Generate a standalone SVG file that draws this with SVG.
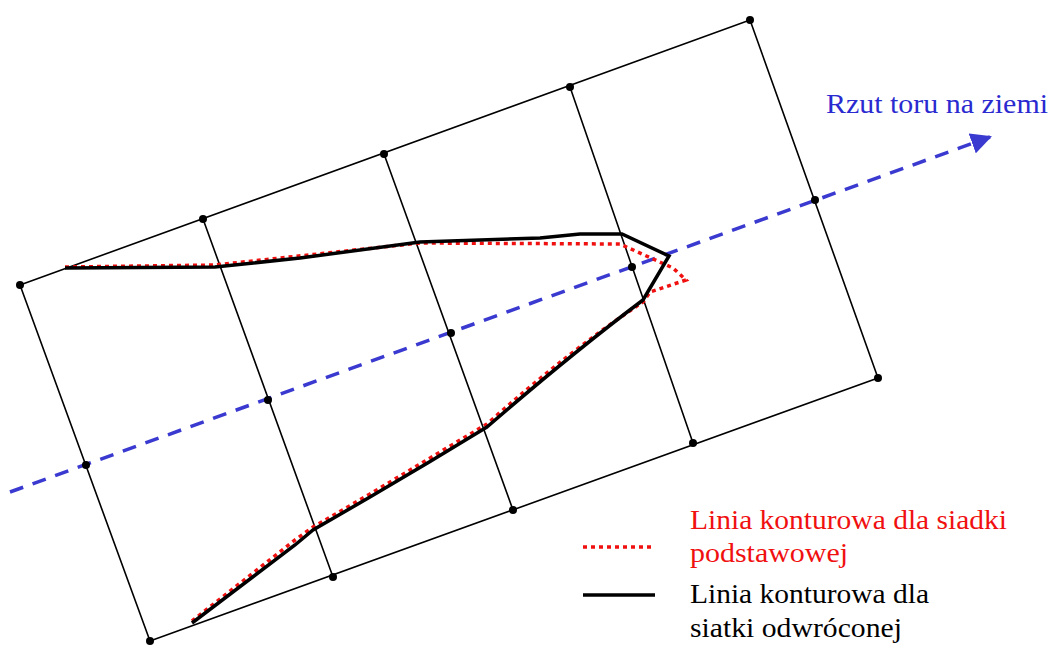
<svg xmlns="http://www.w3.org/2000/svg" width="1052" height="645" viewBox="0 0 1052 645">
<style>
.grid{stroke:#000;stroke-width:1.6;fill:none}
.dot{fill:#000}
.blue{stroke:#3a3ad0;stroke-width:3.5;stroke-dasharray:14 10;fill:none}
.black{stroke:#000;stroke-width:3.5;fill:none;stroke-linejoin:miter}
.red{stroke:#f01010;stroke-width:3.5;stroke-dasharray:4 4;fill:none}
.t{font-family:"Liberation Serif",serif;font-size:27px}
</style>
<defs>
<marker id="arr" viewBox="0 0 10 10" refX="9" refY="5" markerWidth="6" markerHeight="6" markerUnits="strokeWidth" orient="auto">
<path d="M0,0 L10,5 L0,10 z" fill="#3a3ad0"/>
</marker>
</defs>
<rect width="1052" height="645" fill="#fff"/>
<g id="grid">
<path class="grid" d="M20,285 L750,20 L878,378 L150,641 Z"/>
<path class="grid" d="M203,219 L333,577 M384,154 L513,510 M570,87 L693,443"/>
</g>
<g id="connectors">
<path class="blue" d="M10,492 L990,137" marker-end="url(#arr)"/>
<path class="red" d="M65,267 L215,265 L420,243 L620,244 L673,268 L686,280 L650,292 L643,302 Q570,350 487,424 Q430,458 370,494 L313,527 L295,540 L192,621"/>
<path class="black" d="M65,268 L215,267 L300,258 L420,242 L540,238 L580,234 L622,234 L669,256 L643,300 Q570,355 487,427 Q430,462 370,497 L313,530 L295,545 L192,623"/>
</g>
<g id="points">
<circle class="dot" cx="20" cy="285" r="4"/>
<circle class="dot" cx="203" cy="219" r="4"/>
<circle class="dot" cx="384" cy="154" r="4"/>
<circle class="dot" cx="570" cy="87" r="4"/>
<circle class="dot" cx="750" cy="20" r="4"/>
<circle class="dot" cx="815" cy="200" r="4"/>
<circle class="dot" cx="878" cy="378" r="4"/>
<circle class="dot" cx="693" cy="443" r="4"/>
<circle class="dot" cx="513" cy="510" r="4"/>
<circle class="dot" cx="333" cy="577" r="4"/>
<circle class="dot" cx="150" cy="641" r="4"/>
<circle class="dot" cx="86" cy="465" r="4"/>
<circle class="dot" cx="268" cy="400" r="4"/>
<circle class="dot" cx="451" cy="333" r="4"/>
<circle class="dot" cx="632" cy="267" r="4"/>
</g>
<g id="label-track">
<text class="t" x="826" y="113" fill="#2a2ad0" textLength="222" lengthAdjust="spacingAndGlyphs">Rzut toru na ziemi</text>
</g>
<g id="legend">
<line x1="583" y1="547" x2="655" y2="547" class="red"/>
<line x1="583" y1="595" x2="655" y2="595" class="black"/>
<text class="t" x="690" y="529" fill="#f01010" textLength="317" lengthAdjust="spacingAndGlyphs">Linia konturowa dla siadki</text>
<text class="t" x="690" y="562" fill="#f01010" textLength="158" lengthAdjust="spacingAndGlyphs">podstawowej</text>
<text class="t" x="690" y="603" fill="#000" textLength="239" lengthAdjust="spacingAndGlyphs">Linia konturowa dla</text>
<text class="t" x="690" y="637" fill="#000" textLength="212" lengthAdjust="spacingAndGlyphs">siatki odwróconej</text>
</g>
</svg>
